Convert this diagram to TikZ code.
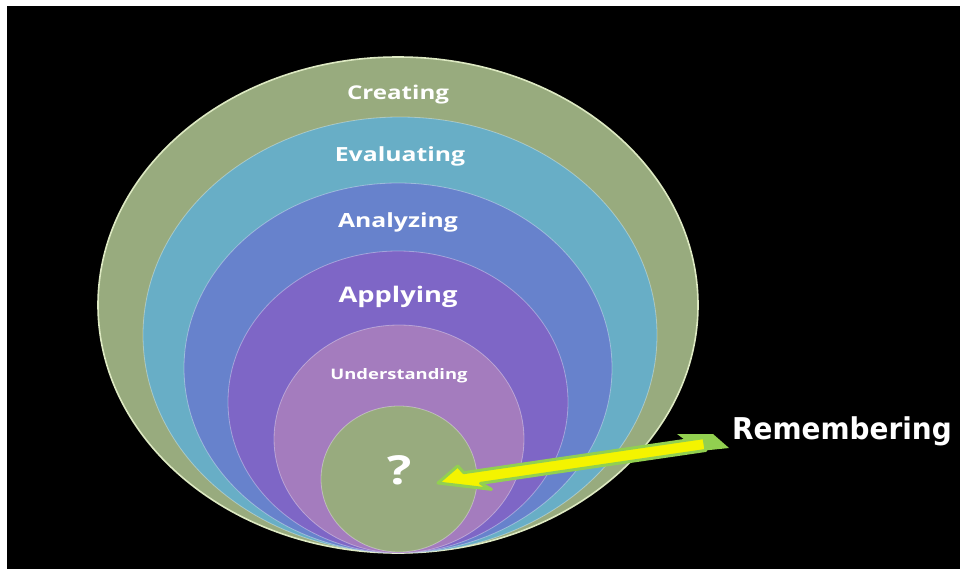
\documentclass[tikz,border=0pt]{standalone}
\usepackage{fontspec}
\newfontfamily\lvlfont[FakeStretch=1.27]{Open Sans}
\newfontfamily\remfont[FakeStretch=0.93]{DejaVu Sans}
\usetikzlibrary{shapes.geometric,positioning,calc}
\definecolor{creatcol}{HTML}{98AB7E}
\definecolor{evalcol}{HTML}{68AEC6}
\definecolor{analcol}{HTML}{6782CC}
\definecolor{applcol}{HTML}{7E66C6}
\definecolor{undercol}{HTML}{A47CBE}
\definecolor{rimcol}{HTML}{DDE9C2}
\definecolor{arrowfill}{HTML}{F4F400}
\definecolor{arrowedge}{HTML}{92D050}

\begin{document}
\begin{tikzpicture}[x=1pt,y=-1pt,
  layer/.style={ellipse, inner sep=0pt, draw=white, draw opacity=0.35,
                line width=0.8pt},
  lvl/.style={font=\lvlfont\bfseries\fontsize{#1}{#1}\selectfont,
              text=white, inner sep=0pt},
  remlbl/.style={font=\remfont\bfseries\fontsize{30}{30}\selectfont,
                 text=white, inner sep=0pt, anchor=base west}
]
  \useasboundingbox (0,0) rectangle (960,569);
  \fill[white] (0,0) rectangle (960,569);
  \fill[black] (7,6) rectangle (960,569);

  % nested levels, all touching at the bottom
  \node[layer, fill=creatcol, draw=rimcol, draw opacity=1, line width=1.6pt,
        minimum width=600pt, minimum height=496pt] (creating) at (398,305) {};
  \node[layer, fill=evalcol, minimum width=514pt, minimum height=436pt] (evaluating) at (400,335) {};
  \node[layer, fill=analcol, minimum width=428pt, minimum height=370pt] (analyzing) at (398,368) {};
  \node[layer, fill=applcol, minimum width=340pt, minimum height=302pt] (applying) at (398,402) {};
  \node[layer, fill=undercol, minimum width=250pt, minimum height=228pt] (understanding) at (399,439) {};
  \node[layer, fill=creatcol, minimum width=156pt, minimum height=146pt] (core) at (399,479) {};

  \node[lvl=19] (creatlbl) at ($(creating.north)+(0,38)$) {Creating};
  \node[lvl=19.5] (evallbl) at ($(evaluating.north)+(0,40)$) {Evaluating};
  \node[lvl=19.5] (anallbl) at ($(analyzing.north)+(0,40)$) {Analyzing};
  \node[lvl=21.5] (appllbl) at ($(applying.north)+(0,46)$) {Applying};
  \node[lvl=14.5] (underlbl) at ($(understanding.north)+(0,51)$) {Understanding};
  \node[lvl=40] (q) at (400,470) {?};

  \node[remlbl] (rem) at (732,439) {Remembering};

  % block arrow from the label to the question mark
  \coordinate (atail) at ($(rem.base west)+(-27,5)$);
  \coordinate (atip) at ($(q)+(38,13)$);
  \fill[arrowedge] ($(atail)+(-28,-10)$) -- ($(atail)+(8,-10)$)
    -- ($(atail)+(24,4)$) -- ($(atail)+(-5,7)$) -- cycle;
  \filldraw[fill=arrowfill, draw=arrowedge, line width=3pt, line join=round]
    (atip) -- ($(atip)!22pt!(atail)!14pt!90:(atail)$)
    -- ($(atip)!27pt!(atail)!6.5pt!90:(atail)$)
    -- ($(atail)!6.5pt!-90:(atip)$)
    -- ($(atail)!6.5pt!90:(atip)$)
    -- ($(atip)!42pt!(atail)!6.5pt!-90:(atail)$)
    -- ($(atip)!52pt!(atail)!14pt!-90:(atail)$) -- cycle;
\end{tikzpicture}
\end{document}
